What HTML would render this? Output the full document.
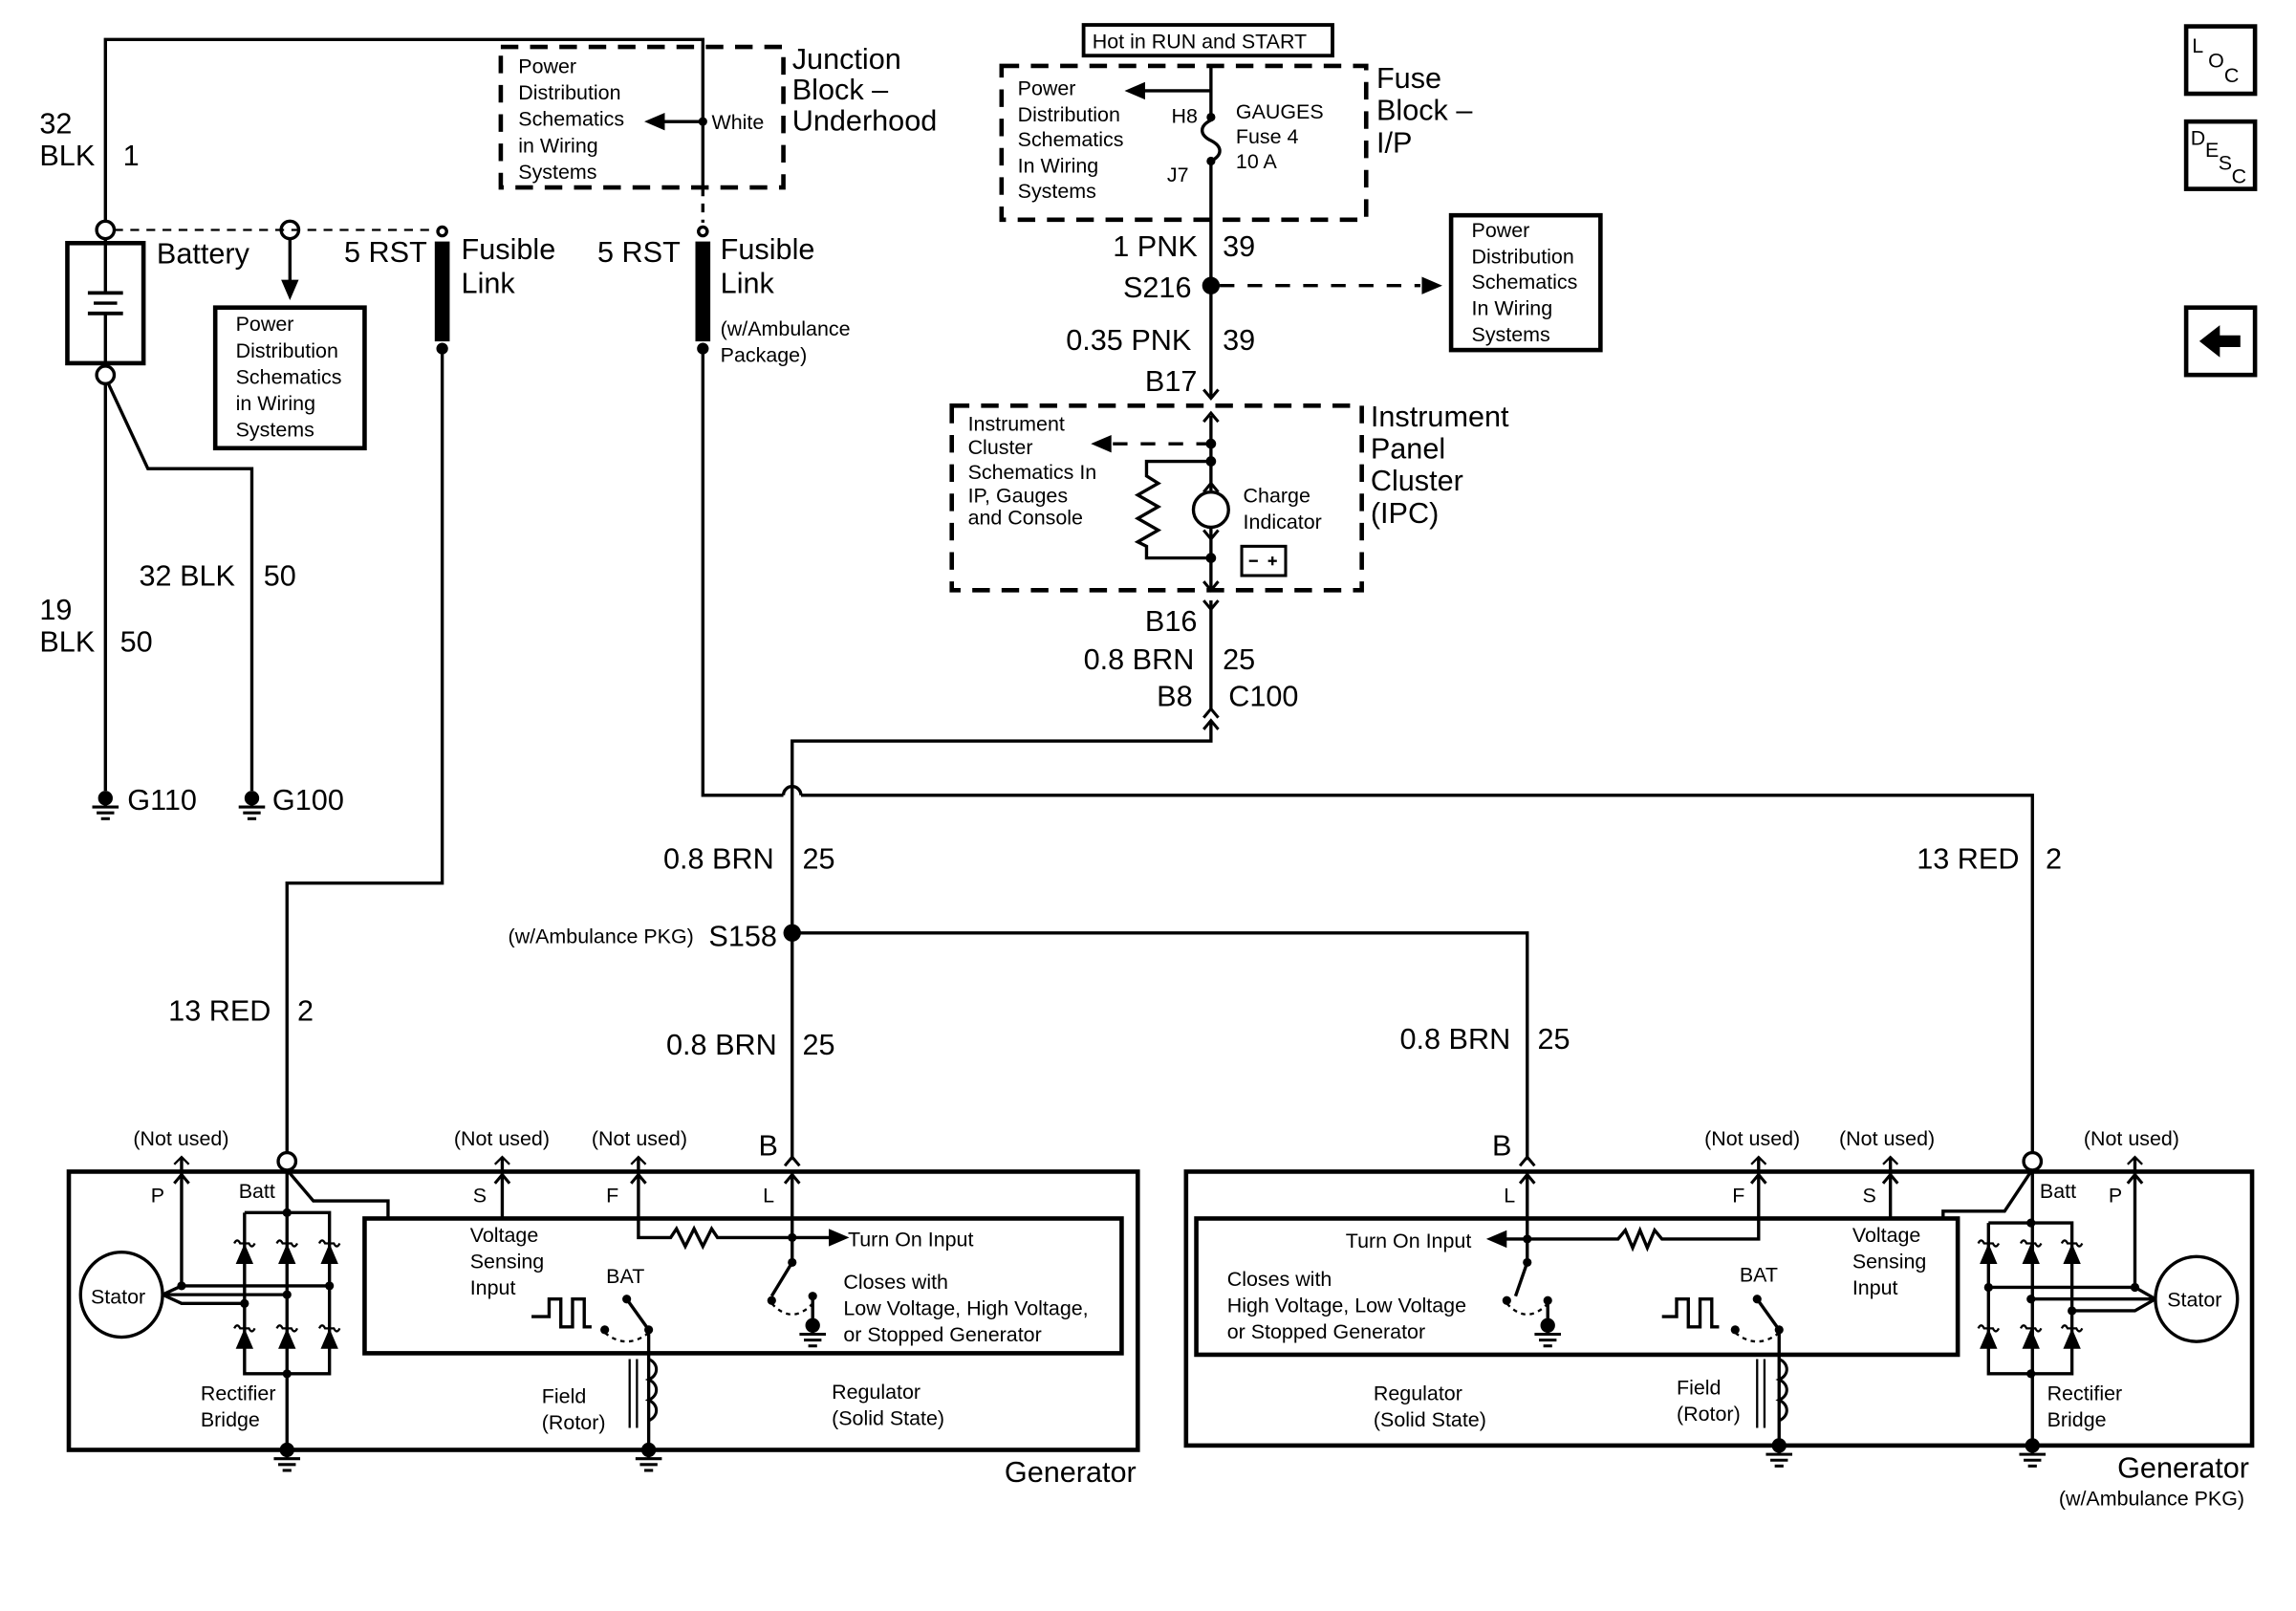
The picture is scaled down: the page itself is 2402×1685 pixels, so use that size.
<!DOCTYPE html>
<html><head><meta charset="utf-8"><style>
html,body{margin:0;padding:0;background:#fff}
svg{display:block}
text{font-family:"Liberation Sans",Arial,sans-serif;fill:#000}
.b{font-size:20px}.s{font-size:14px}.m{font-size:15px}
</style></head><body>
<svg width="2402" height="1685" viewBox="0 0 1568 1100" preserveAspectRatio="none" xmlns="http://www.w3.org/2000/svg">
<defs>
<g id="gnd"><circle cx="0" cy="0" r="5" fill="#000"/><line x1="0" y1="0" x2="0" y2="6" stroke="#000" stroke-width="2"/><line x1="-9" y1="6" x2="9" y2="6" stroke="#000" stroke-width="2"/><line x1="-6" y1="10" x2="6" y2="10" stroke="#000" stroke-width="2"/><line x1="-3" y1="14" x2="3" y2="14" stroke="#000" stroke-width="2"/></g>
<g id="dio"><polygon points="-6,8 6,8 0,-6" fill="#000"/><path d="M-7,-6 q2,-4 4,0 h6 q2,4 4,0" fill="none" stroke="#000" stroke-width="1.5"/></g>
<g id="nu"><path d="M-5,-3 L0,-8 L5,-3" fill="none" stroke="#000" stroke-width="1.5"/></g>
<g id="up"><path d="M-5,6 L0,0 L5,6" fill="none" stroke="#000" stroke-width="2"/></g>
<g id="dn"><path d="M-5,-6 L0,0 L5,-6" fill="none" stroke="#000" stroke-width="2"/></g>
</defs>
<g fill="none" stroke="#000" stroke-width="2.2">
<polyline points="72,151 72,27 480,27 480,128"/>
<line x1="480" y1="128" x2="480" y2="152" stroke-dasharray="6,5"/>
<rect x="342" y="32" width="193" height="96" stroke-width="3" stroke-dasharray="12,8"/>
<line x1="480" y1="83" x2="452" y2="83"/>
<circle cx="72" cy="157" r="6"/>
<rect x="46" y="166" width="52" height="82" stroke-width="3"/>
<line x1="72" y1="163" x2="72" y2="200"/><line x1="72" y1="215" x2="72" y2="248"/>
<line x1="60" y1="200" x2="84" y2="200" stroke-width="2.5"/><line x1="64" y1="207" x2="80" y2="207"/><line x1="60" y1="214" x2="84" y2="214" stroke-width="2.5"/>
<circle cx="72" cy="256" r="6"/>
<line x1="72" y1="262" x2="72" y2="540"/>
<polyline points="74,262 101,320 172,320 172,540"/>
<line x1="78" y1="157" x2="297" y2="157" stroke-width="1.5" stroke-dasharray="6,5"/>
<circle cx="198" cy="157" r="6"/>
<line x1="198" y1="163" x2="198" y2="194"/>
<rect x="147" y="210" width="102" height="96" stroke-width="3"/>
<circle cx="302" cy="158" r="3"/>
<rect x="298" y="166" width="8" height="66" fill="#000"/>
<polyline points="302,238 302,603 196,603 196,787"/>
<circle cx="480" cy="158" r="3"/>
<rect x="476" y="166" width="8" height="66" fill="#000"/>
<polyline points="480,238 480,543 535,543"/>
<path d="M535,543 a6,6 0 0 1 12,0"/>
<polyline points="547,543 1388,543 1388,787"/>
<polyline points="827,492 827,506 541,506 541,792"/>
<polyline points="541,637 1043,637 1043,792"/>
<rect x="740" y="17" width="170" height="21" stroke-width="2.5"/>
<rect x="684" y="45" width="249" height="105" stroke-width="3" stroke-dasharray="12,8"/>
<line x1="827" y1="62" x2="780" y2="62"/>
<line x1="827" y1="45" x2="827" y2="82"/>
<path d="M827,82 c-8,4 -8,10 0,14 c8,4 8,10 0,14"/>
<line x1="827" y1="110" x2="827" y2="272"/>
<line x1="833" y1="195" x2="970" y2="195" stroke-dasharray="10,9"/>
<rect x="991" y="147" width="102" height="92" stroke-width="3"/>
<rect x="650" y="277" width="280" height="126" stroke-width="3" stroke-dasharray="12,8"/>
<line x1="827" y1="284" x2="827" y2="335"/>
<line x1="827" y1="360" x2="827" y2="403"/>
<line x1="827" y1="303" x2="760" y2="303" stroke-dasharray="10,9"/>
<polyline points="827,315 783,315 783,325 791,330 777,338 791,346 777,354 791,362 777,370 783,373 783,381 827,381"/>
<circle cx="827" cy="348" r="12"/>
<rect x="848" y="373" width="30" height="20" stroke-width="2"/>
<line x1="827" y1="410" x2="827" y2="484"/>
<rect x="47" y="800" width="730" height="190" stroke-width="3"/>
<rect x="249" y="832" width="517" height="92" stroke-width="3"/>
<circle cx="196" cy="793" r="6"/>
<line x1="196" y1="799" x2="196" y2="990"/>
<polyline points="197,800 214,820 265,820 265,832"/>
<polyline points="167,828 225,828 225,938 167,938 167,828"/>
<ellipse cx="83" cy="884" rx="28" ry="29"/>
<line x1="124" y1="790" x2="124" y2="878"/>
<polyline points="111,884 124,878 225,878"/>
<polyline points="111,884 196,884"/>
<polyline points="111,884 124,890 167,890"/>
<line x1="343" y1="790" x2="343" y2="832"/>
<polyline points="436,790 436,845 458,845 462,839 468,851 474,839 480,851 486,839 490,845 572,845"/>
<line x1="541" y1="800" x2="541" y2="862"/>
<line x1="541" y1="862" x2="527" y2="885"/>
<line x1="555" y1="885" x2="555" y2="905"/>
<polyline points="363,899 375,899 375,887 383,887 383,906 391,906 391,887 399,887 399,906 404,906"/>
<line x1="428" y1="887" x2="443" y2="908"/>
<line x1="443" y1="908" x2="443" y2="990"/>
<line x1="430" y1="928" x2="430" y2="975" stroke-width="1.5"/><line x1="435" y1="928" x2="435" y2="975" stroke-width="1.5"/>
<path d="M443,928 c7,3 7,11 0,14 c7,3 7,11 0,14 c7,3 7,11 0,14" stroke-width="2"/>
<rect x="810" y="800" width="728" height="187" stroke-width="3"/>
<rect x="817" y="832" width="520" height="93" stroke-width="3"/>
<circle cx="1388" cy="793" r="6"/>
<line x1="1388" y1="799" x2="1388" y2="987"/>
<polyline points="1387,800 1369,827 1327,827 1327,832"/>
<polyline points="1358,835 1415,835 1415,938 1358,938 1358,835"/>
<ellipse cx="1500" cy="887" rx="28" ry="29"/>
<line x1="1458" y1="790" x2="1458" y2="879"/>
<polyline points="1472,887 1458,879 1358,879"/>
<polyline points="1472,887 1387,887"/>
<polyline points="1472,887 1458,895 1415,895"/>
<line x1="1291" y1="790" x2="1291" y2="832"/>
<polyline points="1201,790 1201,846 1135,846 1130,840 1125,852 1120,840 1115,852 1110,840 1105,846 1025,846"/>
<line x1="1043" y1="800" x2="1043" y2="862"/>
<line x1="1043" y1="862" x2="1035" y2="885"/>
<line x1="1057" y1="890" x2="1057" y2="905"/>
<polyline points="1135,899 1145,899 1145,887 1153,887 1153,906 1161,906 1161,887 1169,887 1169,906 1174,906"/>
<line x1="1200" y1="887" x2="1215" y2="908"/>
<line x1="1215" y1="908" x2="1215" y2="987"/>
<line x1="1200" y1="928" x2="1200" y2="975" stroke-width="1.5"/><line x1="1205" y1="928" x2="1205" y2="975" stroke-width="1.5"/>
<path d="M1215,928 c7,3 7,11 0,14 c7,3 7,11 0,14 c7,3 7,11 0,14" stroke-width="2"/>
<rect x="1493" y="18" width="47" height="46" stroke-width="3"/>
<rect x="1493" y="83" width="47" height="46" stroke-width="3"/>
<rect x="1493" y="210" width="47" height="46" stroke-width="3"/>
</g>
<g fill="#000">
<polygon points="440,83 454,77 454,89"/>
<polygon points="198,205 192,191 204,191"/>
<polygon points="768,62 782,56 782,68"/>
<polygon points="985,195 971,189 971,201"/>
<polygon points="745,303 759,297 759,309"/>
<polygon points="580,845 566,839 566,851"/>
<polygon points="1015,846 1029,840 1029,852"/>
<polygon points="1502,233 1516,222 1516,229 1530,229 1530,237 1516,237 1516,244"/>
<circle cx="302" cy="238" r="4"/><circle cx="480" cy="238" r="4"/>
<circle cx="480" cy="83" r="3"/>
<circle cx="827" cy="80" r="3"/><circle cx="827" cy="110" r="3"/>
<circle cx="827" cy="195" r="6"/>
<circle cx="541" cy="637" r="6"/>
<circle cx="827" cy="303" r="3.5"/><circle cx="827" cy="315" r="3.5"/><circle cx="827" cy="381" r="3.5"/>
<circle cx="196" cy="828" r="3"/><circle cx="196" cy="938" r="3"/><circle cx="196" cy="884" r="3"/><circle cx="124" cy="878" r="3"/><circle cx="225" cy="878" r="3"/><circle cx="167" cy="890" r="3"/>
<circle cx="1387" cy="835" r="3"/><circle cx="1387" cy="938" r="3"/><circle cx="1387" cy="887" r="3"/><circle cx="1458" cy="879" r="3"/><circle cx="1358" cy="879" r="3"/><circle cx="1415" cy="895" r="3"/>
<circle cx="541" cy="845" r="3"/><circle cx="541" cy="862" r="3"/><circle cx="527" cy="888" r="3"/><circle cx="555" cy="885" r="3"/>
<circle cx="1043" cy="846" r="3"/><circle cx="1043" cy="862" r="3"/><circle cx="1029" cy="888" r="3"/><circle cx="1057" cy="888" r="3"/>
<circle cx="428" cy="887" r="3"/><circle cx="443" cy="908" r="3"/><circle cx="413" cy="908" r="3"/>
<circle cx="1200" cy="887" r="3"/><circle cx="1215" cy="908" r="3"/><circle cx="1185" cy="908" r="3"/>
</g>
<use href="#gnd" x="72" y="545"/><use href="#gnd" x="172" y="545"/>
<use href="#gnd" x="196" y="990"/><use href="#gnd" x="443" y="990"/>
<use href="#gnd" x="1388" y="987"/><use href="#gnd" x="1215" y="987"/>
<use href="#gnd" x="555" y="905"/><use href="#gnd" x="1057" y="905"/>
<use href="#dio" x="167" y="855"/><use href="#dio" x="196" y="855"/><use href="#dio" x="225" y="855"/>
<use href="#dio" x="167" y="913"/><use href="#dio" x="196" y="913"/><use href="#dio" x="225" y="913"/>
<use href="#dio" x="1358" y="855"/><use href="#dio" x="1387" y="855"/><use href="#dio" x="1415" y="855"/>
<use href="#dio" x="1358" y="913"/><use href="#dio" x="1387" y="913"/><use href="#dio" x="1415" y="913"/>
<use href="#nu" x="124" y="798"/><use href="#nu" x="343" y="798"/><use href="#nu" x="436" y="798"/>
<use href="#nu" x="1201" y="798"/><use href="#nu" x="1291" y="798"/><use href="#nu" x="1458" y="798"/>
<use href="#up" x="124" y="802"/><use href="#up" x="343" y="802"/><use href="#up" x="436" y="802"/><use href="#up" x="541" y="802"/><use href="#up" x="541" y="790"/>
<use href="#up" x="1201" y="802"/><use href="#up" x="1291" y="802"/><use href="#up" x="1458" y="802"/><use href="#up" x="1043" y="802"/><use href="#up" x="1043" y="790"/>
<use href="#dn" x="827" y="272"/><use href="#up" x="827" y="282"/>
<use href="#dn" x="827" y="403"/><use href="#dn" x="827" y="416"/>
<use href="#up" x="827" y="484"/><use href="#up" x="827" y="492"/>
<use href="#up" x="827" y="330"/><use href="#dn" x="827" y="368"/>
<g fill="none" stroke="#000" stroke-width="1.5" stroke-dasharray="3,3"><path d="M527,890 q14,15 28,0"/><path d="M1029,890 q14,15 28,0"/><path d="M413,910 q15,12 30,0"/><path d="M1185,910 q15,12 30,0"/></g>
<g stroke="#000" stroke-width="1.5"><line x1="853" y1="383" x2="859" y2="383"/><line x1="866" y1="383" x2="872" y2="383"/><line x1="869" y1="380" x2="869" y2="386"/></g>

<text class="b" x="27" y="91">32</text><text class="b" x="27" y="113">BLK</text><text class="b" x="84" y="113">1</text>
<text class="b" x="107" y="180">Battery</text>
<text class="s" x="161" y="226">Power</text><text class="s" x="161" y="244">Distribution</text><text class="s" x="161" y="262">Schematics</text><text class="s" x="161" y="280">in Wiring</text><text class="s" x="161" y="298">Systems</text>
<text class="b" x="235" y="179">5 RST</text><text class="b" x="315" y="177">Fusible</text><text class="b" x="315" y="200">Link</text>
<text class="b" x="408" y="179">5 RST</text><text class="b" x="492" y="177">Fusible</text><text class="b" x="492" y="200">Link</text>
<text class="s" x="492" y="229">(w/Ambulance</text><text class="s" x="492" y="247">Package)</text>
<text class="s" x="354" y="50">Power</text><text class="s" x="354" y="68">Distribution</text><text class="s" x="354" y="86">Schematics</text><text class="s" x="354" y="104">in Wiring</text><text class="s" x="354" y="122">Systems</text>
<text class="s" x="486" y="88">White</text>
<text class="b" x="541" y="47">Junction</text><text class="b" x="541" y="68">Block –</text><text class="b" x="541" y="89">Underhood</text>
<text class="s" x="746" y="33">Hot in RUN and START</text>
<text class="s" x="695" y="65">Power</text><text class="s" x="695" y="83">Distribution</text><text class="s" x="695" y="100">Schematics</text><text class="s" x="695" y="118">In Wiring</text><text class="s" x="695" y="135">Systems</text>
<text class="s" x="800" y="84">H8</text><text class="s" x="797" y="124">J7</text>
<text class="s" x="844" y="81">GAUGES</text><text class="s" x="844" y="98">Fuse 4</text><text class="s" x="844" y="115">10 A</text>
<text class="b" x="940" y="60">Fuse</text><text class="b" x="940" y="82">Block –</text><text class="b" x="940" y="104">I/P</text>
<text class="b" x="760" y="175">1 PNK</text><text class="b" x="835" y="175">39</text>
<text class="b" x="767" y="203">S216</text>
<text class="s" x="1005" y="162">Power</text><text class="s" x="1005" y="180">Distribution</text><text class="s" x="1005" y="197">Schematics</text><text class="s" x="1005" y="215">In Wiring</text><text class="s" x="1005" y="233">Systems</text>
<text class="b" x="728" y="239">0.35 PNK</text><text class="b" x="835" y="239">39</text>
<text class="b" x="782" y="267">B17</text>
<text class="s" x="661" y="294">Instrument</text><text class="s" x="661" y="310">Cluster</text><text class="s" x="661" y="327">Schematics In</text><text class="s" x="661" y="343">IP, Gauges</text><text class="s" x="661" y="358">and Console</text>
<text class="s" x="849" y="343">Charge</text><text class="s" x="849" y="361">Indicator</text>
<text class="b" x="936" y="291">Instrument</text><text class="b" x="936" y="313">Panel</text><text class="b" x="936" y="335">Cluster</text><text class="b" x="936" y="357">(IPC)</text>
<text class="b" x="782" y="431">B16</text><text class="b" x="740" y="457">0.8 BRN</text><text class="b" x="835" y="457">25</text>
<text class="b" x="790" y="482">B8</text><text class="b" x="839" y="482">C100</text>
<text class="b" x="95" y="400">32 BLK</text><text class="b" x="180" y="400">50</text>
<text class="b" x="27" y="423">19</text><text class="b" x="27" y="445">BLK</text><text class="b" x="82" y="445">50</text>
<text class="b" x="87" y="553">G110</text><text class="b" x="186" y="553">G100</text>
<text class="b" x="453" y="593">0.8 BRN</text><text class="b" x="548" y="593">25</text>
<text class="s" x="347" y="644">(w/Ambulance PKG)</text><text class="b" x="484" y="646">S158</text>
<text class="b" x="115" y="697">13 RED</text><text class="b" x="203" y="697">2</text>
<text class="b" x="455" y="720">0.8 BRN</text><text class="b" x="548" y="720">25</text>
<text class="b" x="956" y="716">0.8 BRN</text><text class="b" x="1050" y="716">25</text>
<text class="b" x="1309" y="593">13 RED</text><text class="b" x="1397" y="593">2</text>
<text class="b" x="518" y="789">B</text><text class="b" x="1019" y="789">B</text>
<text class="s" x="91" y="782">(Not used)</text><text class="s" x="310" y="782">(Not used)</text><text class="s" x="404" y="782">(Not used)</text>
<text class="s" x="1164" y="782">(Not used)</text><text class="s" x="1256" y="782">(Not used)</text><text class="s" x="1423" y="782">(Not used)</text>
<text class="s" x="103" y="821">P</text><text class="s" x="163" y="818">Batt</text><text class="s" x="323" y="821">S</text><text class="s" x="414" y="821">F</text><text class="s" x="521" y="821">L</text>
<text class="s" x="1027" y="821">L</text><text class="s" x="1183" y="821">F</text><text class="s" x="1272" y="821">S</text><text class="s" x="1393" y="818">Batt</text><text class="s" x="1440" y="821">P</text>
<text class="s" x="62" y="890">Stator</text><text class="s" x="1480" y="892">Stator</text>
<text class="s" x="321" y="848">Voltage</text><text class="s" x="321" y="866">Sensing</text><text class="s" x="321" y="884">Input</text>
<text class="s" x="1265" y="848">Voltage</text><text class="s" x="1265" y="866">Sensing</text><text class="s" x="1265" y="884">Input</text>
<text class="s" x="579" y="851">Turn On Input</text><text class="s" x="919" y="852">Turn On Input</text>
<text class="s" x="414" y="876">BAT</text><text class="s" x="1188" y="875">BAT</text>
<text class="s" x="576" y="880">Closes with</text><text class="s" x="576" y="898">Low Voltage, High Voltage,</text><text class="s" x="576" y="916">or Stopped Generator</text>
<text class="s" x="838" y="878">Closes with</text><text class="s" x="838" y="896">High Voltage, Low Voltage</text><text class="s" x="838" y="914">or Stopped Generator</text>
<text class="s" x="137" y="956">Rectifier</text><text class="s" x="137" y="974">Bridge</text>
<text class="s" x="1398" y="956">Rectifier</text><text class="s" x="1398" y="974">Bridge</text>
<text class="s" x="370" y="958">Field</text><text class="s" x="370" y="976">(Rotor)</text>
<text class="s" x="1145" y="952">Field</text><text class="s" x="1145" y="970">(Rotor)</text>
<text class="s" x="568" y="955">Regulator</text><text class="s" x="568" y="973">(Solid State)</text>
<text class="s" x="938" y="956">Regulator</text><text class="s" x="938" y="974">(Solid State)</text>
<text class="b" x="686" y="1012">Generator</text>
<text class="b" x="1446" y="1009">Generator</text><text class="s" x="1406" y="1028">(w/Ambulance PKG)</text>
<text class="s" x="1497" y="36">L</text><text class="s" x="1508" y="46">O</text><text class="s" x="1519" y="56">C</text>
<text class="s" x="1496" y="99">D</text><text class="s" x="1506" y="107">E</text><text class="s" x="1515" y="116">S</text><text class="s" x="1524" y="125">C</text>
</svg>
</body></html>
